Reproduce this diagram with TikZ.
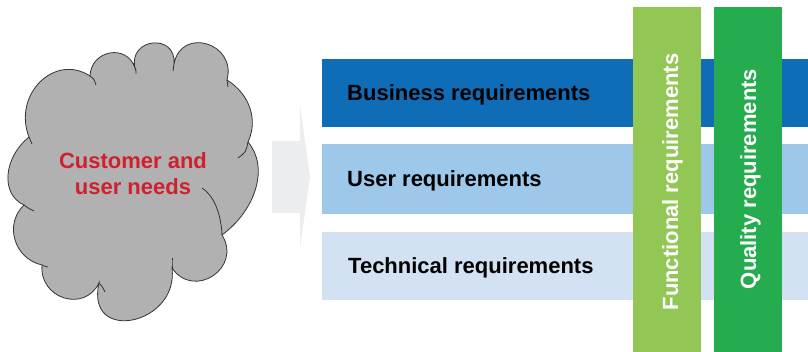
\documentclass[tikz,border=0pt]{standalone}
\usepackage{fontspec}
\setmainfont{Liberation Sans}
\usetikzlibrary{calc}
\definecolor{cloudgray}{HTML}{B1B1B1}
\definecolor{needred}{HTML}{D0202E}
\definecolor{arrowgray}{HTML}{ECEDEE}
\definecolor{busblue}{HTML}{0F6CB6}
\definecolor{userblue}{HTML}{9DC8EA}
\definecolor{techblue}{HTML}{D3E2F2}
\definecolor{funcgreen}{HTML}{92C755}
\definecolor{qualgreen}{HTML}{24AC4E}
% circular-ish bump from #1 to #2 through #3; #4 = 1/3-g, #5 = 2/3-g
\newcommand\cloudbump[5]{.. controls ($#4*(#1)-#5*(#2)+1.3333*(#3)$) and ($#4*(#2)-#5*(#1)+1.3333*(#3)$) .. (#2)}
\tikzset{
  lbl/.style={font=\fontsize{22}{26}\selectfont\bfseries, inner sep=0pt},
  vlbl/.style={lbl, text=white, rotate=90, anchor=base},
  cloudline/.style={draw=black!80, line width=0.8pt},
}
\begin{document}
\begin{tikzpicture}[x=1pt,y=-1pt]
\useasboundingbox (0,0) rectangle (808,352);
% cloud outline points
\coordinate (c1) at (29,137);  \coordinate (p1) at (40,82);
\coordinate (c2) at (90,76);   \coordinate (p2) at (110,53);
\coordinate (c3) at (135,68);  \coordinate (p3) at (153,43);
\coordinate (c4) at (174,64);  \coordinate (p4) at (207,44);
\coordinate (c5) at (227,80);  \coordinate (p5) at (250,108);
\coordinate (c6) at (248,142); \coordinate (p6) at (256,188);
\coordinate (c7) at (222,235); \coordinate (p7) at (213,276);
\coordinate (c8) at (172,268); \coordinate (p8) at (133,320);
\coordinate (c9) at (99,283);  \coordinate (p9) at (64,298);
\coordinate (c10) at (42,265); \coordinate (p10) at (15,240);
\coordinate (c11) at (24,205); \coordinate (p11) at (8,175);
\path[fill=cloudgray, cloudline] (c1)
  \cloudbump{c1}{c2}{p1}{0.176}{0.510}
  \cloudbump{c2}{c3}{p2}{0.235}{0.569}
  \cloudbump{c3}{c4}{p3}{0.457}{0.791}
  \cloudbump{c4}{c5}{p4}{0.360}{0.694}
  \cloudbump{c5}{c6}{p5}{0.041}{0.375}
  \cloudbump{c6}{c7}{p6}{0.063}{0.397}
  \cloudbump{c7}{c8}{p7}{0.320}{0.654}
  \cloudbump{c8}{c9}{p8}{0.477}{0.811}
  \cloudbump{c9}{c10}{p9}{0.230}{0.564}
  \cloudbump{c10}{c11}{p10}{0.120}{0.454}
  \cloudbump{c11}{c1}{p11}{0.101}{0.435} -- cycle;
% inner tails of the cloud
\draw[cloudline] (c1) .. controls (31,140) .. (32,144);
\draw[cloudline] (c2) .. controls (94,79) .. (96,85);
\draw[cloudline] (c3) .. controls (136,70) .. (136,74);
\draw[cloudline] (c4) .. controls (174,67) .. (173,71);
\draw[cloudline] (c5) .. controls (228,83) .. (228,87);
\draw[cloudline] (c6) .. controls (246,152) .. (238,158);
\draw[cloudline] (c7) .. controls (221,212) and (213,195) .. (202,188);
\draw[cloudline] (c8) .. controls (172,264) .. (172,258);
\draw[cloudline] (c9) .. controls (102,286) .. (105,292);
\draw[cloudline] (c10) .. controls (44,266) .. (48,267);
\draw[cloudline] (c11) .. controls (28,208) .. (34,211);
\coordinate (cloud) at (131,180);
\node[lbl, text=needred, align=center] (needs) at (133,174) {Customer and\\user needs};
% arrow
\path[fill=arrowgray] (272,141) -- (300,141) -- (300,105) -- (310,177)
  -- (300,248) -- (300,213) -- (272,213) -- cycle;
% horizontal bars
\fill[busblue] (322,59) rectangle (808,127);
\fill[userblue] (322,144) rectangle (808,214);
\fill[techblue] (322,232) rectangle (808,300);
\node[lbl, anchor=base west] (bus) at (347,101) {Business requirements};
\node[lbl, anchor=base west] (user) at (347,187) {User requirements};
\node[lbl, anchor=base west] (tech) at (348,274) {Technical requirements};
% vertical bars
\fill[funcgreen] (633,7) rectangle (701,352);
\fill[qualgreen] (714,7) rectangle (782,352);
\node[vlbl] (func) at (678,182) {Functional requirements};
\node[vlbl] (qual) at (756,179) {Quality requirements};
\end{tikzpicture}
\end{document}
